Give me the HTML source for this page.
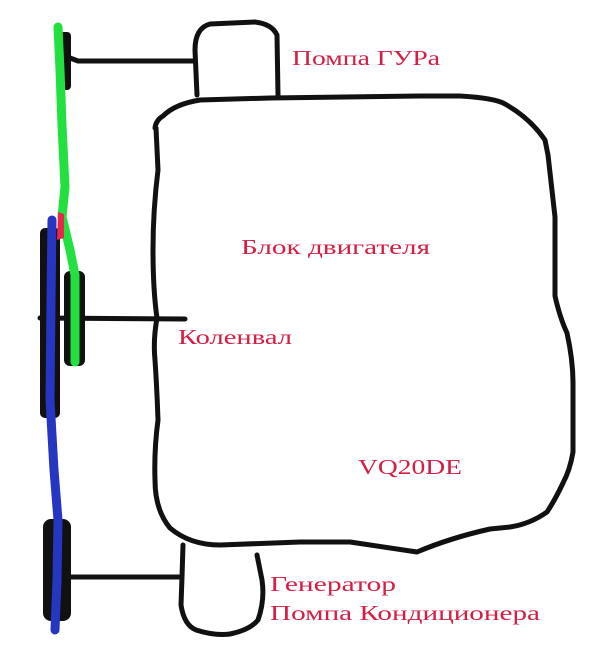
<!DOCTYPE html>
<html><head><meta charset="utf-8"><style>
html,body{margin:0;padding:0;background:#fff;}
svg{display:block}
text{font-family:"Liberation Serif",serif;fill:#d41f45;font-size:21px;}
</style></head><body>
<svg width="600" height="654" viewBox="0 0 600 654" xmlns="http://www.w3.org/2000/svg">
<g fill="none" stroke="#111" stroke-width="5" stroke-linecap="round" stroke-linejoin="round">
<path d="M155,128 Q156,120 163,116 Q175,104 200,100 L270,98 L420,96 L460,96 Q495,98 505,104 Q530,118 545,140 L548,155 Q552,190 555,217 L555,296 Q560,318 567,333 Q573,360 573,383 L573,452 Q570,470 563,483 Q555,500 547,512 Q530,524 510,527 L490,529 Q450,538 417,552 L350,542 L300,542 L220,545 Q190,545 170,528 Q155,510 155,480 Q154,450 158,420 Q157,390 155,360 Q153,340 157,318 Q153,290 153,250 Q153,210 158,170 L156,128 Z"/>
<path d="M197,95 L195,50 Q195,28 210,24 L255,22 Q272,24 277,35 L278,95"/>
<path d="M183,545 L182,577 L181,605 Q184,625 196,630 Q215,636 230,634 Q250,630 258,620 Q265,600 262,580 L257,555"/>
<path d="M70,58 L78,61 L195,61"/>
<path d="M40,318 L185,319"/>
<path d="M68,577 L182,577"/>
</g>
<g fill="#111">
<rect x="58" y="32" width="13" height="58" rx="4"/>
<rect x="40" y="228" width="20" height="190" rx="5"/>
<rect x="64" y="271" width="21" height="95" rx="6"/>
<rect x="43" y="519" width="28" height="102" rx="8"/>
</g>
<path d="M58,27 L60,70 L62,125 L65,187 L62,217 L70,250 L75,275 L75,362" fill="none" stroke="#22e040" stroke-width="9" stroke-linecap="round" stroke-linejoin="round"/>
<path d="M52,220 L51,300 L50,400 L54,470 L58,520 L57,580 L55,630" fill="none" stroke="#2636c0" stroke-width="9" stroke-linecap="round" stroke-linejoin="round"/>
<path d="M58,212 L64,214 L64,238 L57,240 Z" fill="#e8274a"/>
<text x="292" y="65" textLength="148" lengthAdjust="spacingAndGlyphs">Помпа ГУРа</text>
<text x="241" y="254" textLength="189" lengthAdjust="spacingAndGlyphs">Блок двигателя</text>
<text x="178" y="344" textLength="114" lengthAdjust="spacingAndGlyphs">Коленвал</text>
<text x="358" y="474" textLength="104" lengthAdjust="spacingAndGlyphs">VQ20DE</text>
<text x="270" y="591" textLength="126" lengthAdjust="spacingAndGlyphs">Генератор</text>
<text x="270" y="620" textLength="270" lengthAdjust="spacingAndGlyphs">Помпа Кондиционера</text>
</svg>
</body></html>
